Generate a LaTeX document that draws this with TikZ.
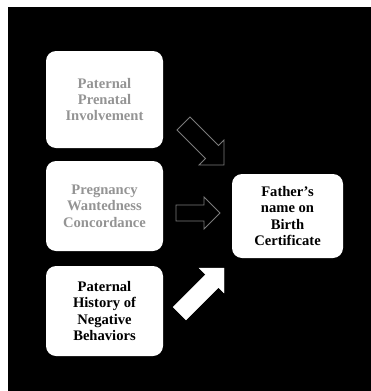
\documentclass[tikz,border=0pt]{standalone}
\usepackage{fontspec}
\setmainfont{Liberation Serif}
\begin{document}
\begin{tikzpicture}[x=1pt,y=-1pt,
  box/.style={fill=white, rounded corners=10pt, align=center,
    font=\bfseries\fontsize{14.6}{16.4}\selectfont, inner sep=0pt},
  faded/.style={text=black!42},
  hollowarrow/.style={draw=black!52, line width=0.8pt, line join=miter},
  solidarrow/.style={fill=white, draw=white, line width=0.3pt}]
  % page and black backdrop
  \useasboundingbox (0,0) rectangle (371,391);
  \fill[white] (0,0) rectangle (371,391);
  \fill[black] (8,7) rectangle (371,391);

  % boxes
  \node[box, faded, minimum width=117pt, minimum height=97pt] (inv) at (104.5,99.5)
    {Paternal\\Prenatal\\Involvement};
  \node[box, faded, minimum width=117pt, minimum height=90pt] (want) at (104.5,206)
    {Pregnancy\\Wantedness\\Concordance};
  \node[box, minimum width=117pt, minimum height=90pt] (hist) at (104.5,311)
    {Paternal\\History of\\Negative\\Behaviors};
  \node[box, minimum width=111pt, minimum height=84pt] (cert) at (287.5,216)
    {Father’s\\name on\\Birth\\Certificate};

  % block arrows toward the outcome box
  \draw[hollowarrow] (190,117) -- (218.5,145.5) -- (224,140) -- (224,165)
    -- (199,165) -- (205.5,158.5) -- (177,130) -- cycle;
  \draw[hollowarrow] (176,205) -- (204,205) -- (204,197) -- (220,213)
    -- (204,229) -- (204,221) -- (176,221) -- cycle;
  \filldraw[solidarrow] (173,307) -- (205.5,274.5) -- (199,268) -- (224,268)
    -- (224,293) -- (218.5,287.5) -- (186,320) -- cycle;
\end{tikzpicture}
\end{document}
